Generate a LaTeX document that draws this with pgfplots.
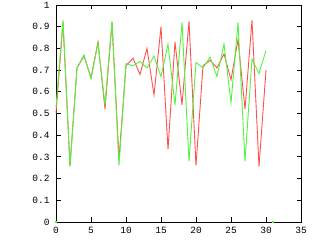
\documentclass[border=0pt]{standalone}
\usepackage{pgfplots}
\pgfplotsset{compat=1.18}
\usepackage{fontspec}
\setmonofont{Liberation Mono}
\definecolor{gpred}{RGB}{255,80,80}
\definecolor{gpgreen}{RGB}{80,245,60}
\begin{document}
\begin{tikzpicture}[x=1pt,y=1pt]
\begin{axis}[
  at={(0,0)}, anchor=south west,
  scale only axis, width=245pt, height=217pt,
  xmin=0, xmax=35, ymin=0, ymax=1,
  xtick={0,5,...,35},
  ytick={0,0.1,...,1},
  tick align=inside,
  major tick length=4.5pt,
  axis line style={line width=0.9pt},
  every tick/.style={black,line width=0.9pt},
  tick label style={font=\fontsize{9.5}{10}\ttfamily},
  /pgf/number format/assume math mode=true,
  xticklabel style={yshift=-2pt},
  yticklabel style={xshift=-3pt},
  clip=false,
]
\addplot[gpred, line width=0.9pt] coordinates {
(0,0.50) (1,0.92) (2,0.26) (3,0.71) (4,0.765) (5,0.665) (6,0.83) (7,0.52)
(8,0.92) (9,0.29) (10,0.72) (11,0.755) (12,0.68) (13,0.80) (14,0.585)
(15,0.90) (16,0.335) (17,0.83) (18,0.54) (19,0.925) (20,0.26) (21,0.72)
(22,0.745) (23,0.71) (24,0.775) (25,0.655) (26,0.84) (27,0.52) (28,0.93)
(29,0.255) (30,0.70)
};
\addplot[gpgreen, line width=0.9pt] coordinates {
(0,0.53) (1,0.93) (2,0.255) (3,0.71) (4,0.77) (5,0.66) (6,0.825) (7,0.54)
(8,0.925) (9,0.26) (10,0.73) (11,0.72) (12,0.74) (13,0.71) (14,0.765)
(15,0.67) (16,0.82) (17,0.54) (18,0.92) (19,0.28) (20,0.735) (21,0.71)
(22,0.76) (23,0.67) (24,0.82) (25,0.55) (26,0.92) (27,0.28) (28,0.75)
(29,0.685) (30,0.79)
};
\addplot[only marks, gpgreen, mark=square*, mark size=0.5pt] coordinates {(0,0) (31,0)};
\end{axis}
\pgfresetboundingbox
\path[use as bounding box] (-56pt,-18pt) rectangle (264pt,222pt);
\end{tikzpicture}
\end{document}
